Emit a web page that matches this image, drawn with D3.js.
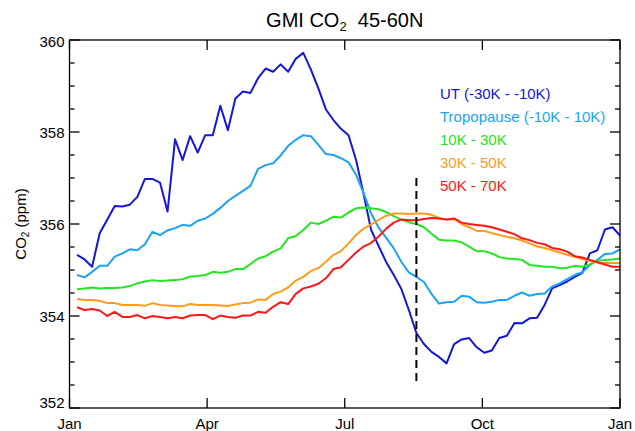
<!DOCTYPE html>
<html>
<head>
<meta charset="utf-8">
<script src="https://cdn.jsdelivr.net/npm/d3@7"></script>
<style>
  html, body { margin: 0; padding: 0; background: #fff; }
  svg { display: block; font-family: "Liberation Sans", Arial, Helvetica, sans-serif; }
</style>
</head>
<body>
<svg id="chart" width="635" height="431"></svg>
<script>
// ---- data (5-day means, day of year at end of each pentad) ----
const days = d3.range(73).map(i => 5 * (i + 1));

const seriesNames = ["UT (-30K - -10K)", "Tropopause (-10K - 10K)", "10K - 30K", "30K - 50K", "50K - 70K"];
const seriesColors = ["#1515e0", "#1aa3f5", "#22e622", "#ff9c1a", "#ff1616"];

const utValues = [
  355.33, 355.23, 355.07, 355.80, 356.09, 356.39, 356.38, 356.42, 356.59, 356.98,
  356.98, 356.90, 356.27, 357.84, 357.39, 357.91, 357.55, 357.93, 357.93, 358.57,
  358.04, 358.73, 358.88, 358.85, 359.17, 359.38, 359.31, 359.47, 359.31, 359.59,
  359.72, 359.36, 358.95, 358.49, 358.26, 358.07, 357.93, 357.39, 356.65, 355.87,
  355.52, 355.17, 354.89, 354.59, 354.13, 353.63, 353.39, 353.22, 353.11, 352.97,
  353.39, 353.49, 353.52, 353.32, 353.20, 353.25, 353.52, 353.57, 353.85, 353.84,
  353.95, 353.96, 354.24, 354.60, 354.67, 354.75, 354.85, 354.94, 355.36, 355.43,
  355.88, 355.93, 355.75
];
const tropopauseValues = [
  354.89, 354.84, 354.96, 355.09, 355.09, 355.29, 355.36, 355.45, 355.43, 355.56,
  355.83, 355.76, 355.86, 355.91, 355.98, 355.96, 356.07, 356.12, 356.22, 356.35,
  356.50, 356.61, 356.72, 356.83, 357.20, 357.28, 357.32, 357.49, 357.70, 357.83,
  357.93, 357.91, 357.72, 357.52, 357.50, 357.43, 357.34, 357.07, 356.67, 356.23,
  355.92, 355.70, 355.47, 355.18, 354.95, 354.85, 354.74, 354.48, 354.27, 354.30,
  354.31, 354.44, 354.42, 354.30, 354.29, 354.31, 354.35, 354.35, 354.44, 354.51,
  354.44, 354.48, 354.49, 354.64, 354.71, 354.80, 354.89, 354.95, 355.11, 355.22,
  355.35, 355.36, 355.45
];
const k10to30Values = [
  354.58, 354.60, 354.62, 354.60, 354.61, 354.61, 354.62, 354.65, 354.71, 354.75,
  354.78, 354.76, 354.77, 354.78, 354.80, 354.86, 354.87, 354.89, 354.96, 354.94,
  354.96, 355.02, 355.02, 355.13, 355.25, 355.30, 355.40, 355.47, 355.69, 355.74,
  355.87, 356.03, 356.00, 356.07, 356.16, 356.14, 356.25, 356.34, 356.36, 356.34,
  356.32, 356.26, 356.17, 356.09, 356.04, 356.00, 355.93, 355.79, 355.66, 355.64,
  355.64, 355.60, 355.51, 355.41, 355.41, 355.36, 355.28, 355.25, 355.24, 355.22,
  355.11, 355.09, 355.07, 355.07, 355.04, 355.05, 355.09, 355.07, 355.12, 355.20,
  355.22, 355.23, 355.25
];
const k30to50Values = [
  354.37, 354.35, 354.35, 354.33, 354.28, 354.28, 354.24, 354.24, 354.24, 354.22,
  354.28, 354.24, 354.23, 354.22, 354.21, 354.26, 354.24, 354.24, 354.24, 354.23,
  354.22, 354.25, 354.28, 354.29, 354.36, 354.35, 354.48, 354.53, 354.62, 354.77,
  354.85, 354.98, 355.04, 355.18, 355.33, 355.41, 355.58, 355.76, 355.90, 355.99,
  356.09, 356.18, 356.23, 356.23, 356.22, 356.23, 356.23, 356.20, 356.13, 356.09,
  356.11, 356.00, 355.93, 355.85, 355.85, 355.80, 355.76, 355.72, 355.69, 355.64,
  355.58, 355.51, 355.48, 355.43, 355.38, 355.33, 355.29, 355.24, 355.20, 355.17,
  355.15, 355.15, 355.15
];
const k50to70Values = [
  354.19, 354.13, 354.15, 354.12, 354.00, 354.09, 353.98, 353.98, 354.02, 353.95,
  354.00, 353.98, 353.95, 353.98, 353.95, 354.01, 354.02, 354.02, 353.93, 354.01,
  353.98, 353.96, 354.01, 354.01, 354.09, 354.07, 354.20, 354.30, 354.26, 354.48,
  354.60, 354.64, 354.70, 354.82, 355.02, 355.06, 355.22, 355.38, 355.51, 355.59,
  355.73, 355.90, 356.03, 356.10, 356.08, 356.08, 356.11, 356.13, 356.12, 356.10,
  356.12, 356.03, 356.00, 355.98, 355.96, 355.93, 355.88, 355.83, 355.78, 355.69,
  355.65, 355.59, 355.56, 355.48, 355.45, 355.40, 355.30, 355.27, 355.22, 355.17,
  355.12, 355.07, 355.07
];
const allSeries = [utValues, tropopauseValues, k10to30Values, k30to50Values, k50to70Values];

const xTickDays = [0, 91.25, 182.5, 273.75, 365];
const xTickLabels = ["Jan", "Apr", "Jul", "Oct", "Jan"];
const yTicks = [352, 354, 356, 358, 360];
const yMinorTicks = d3.range(352, 360.01, 0.5);
const markerDay = 230;
const markerRange = [352.5, 357.0];

// ---- layout ----
const svg = d3.select("#chart");
const W = 635, H = 431;
const margin = { left: 69.5, right: 15, top: 40, bottom: 23 };
const x = d3.scaleLinear().domain([0, 365]).range([margin.left, W - margin.right]);
const y = d3.scaleLinear().domain([352, 360]).range([H - margin.bottom, margin.top]);
const x0 = x.range()[0], x1 = x.range()[1], y0 = y.range()[0], y1 = y.range()[1];

// lines
const line = d3.line().x((d, i) => x(days[i])).y(d => y(d));
allSeries.forEach((vals, k) => {
  svg.append("path")
    .datum(vals)
    .attr("fill", "none")
    .attr("stroke", seriesColors[k])
    .attr("stroke-width", 2)
    .attr("stroke-linejoin", "round")
    .attr("d", line);
});

// dashed marker
svg.append("line")
  .attr("x1", x(markerDay)).attr("x2", x(markerDay))
  .attr("y1", y(markerRange[1])).attr("y2", y(markerRange[0]))
  .attr("stroke", "#000").attr("stroke-width", 2)
  .attr("stroke-dasharray", "8,5");

// axes
const axisG = svg.append("g").attr("stroke", "#000").attr("stroke-width", 1.3);
axisG.append("rect")
  .attr("x", x0).attr("y", y1).attr("width", x1 - x0).attr("height", y0 - y1)
  .attr("fill", "none");

// y ticks (left and right), major and minor
yMinorTicks.forEach(v => {
  const major = yTicks.some(t => Math.abs(t - v) < 1e-6);
  const len = major ? 10 : 5;
  axisG.append("line").attr("x1", x0).attr("x2", x0 + len).attr("y1", y(v)).attr("y2", y(v));
  axisG.append("line").attr("x1", x1).attr("x2", x1 - len).attr("y1", y(v)).attr("y2", y(v));
});
// x ticks (top and bottom)
xTickDays.forEach(d => {
  axisG.append("line").attr("x1", x(d)).attr("x2", x(d)).attr("y1", y0).attr("y2", y0 - 10);
  axisG.append("line").attr("x1", x(d)).attr("x2", x(d)).attr("y1", y1).attr("y2", y1 + 10);
});

// y tick labels
yTicks.forEach(v => {
  let yy = y(v) + 5.5;
  if (v === 352) yy = y(v) - 0.5;
  if (v === 360) yy = y(v) + 7;
  svg.append("text")
    .attr("x", x0 - 5).attr("y", yy)
    .attr("text-anchor", "end")
    .attr("font-size", 15)
    .attr("fill", "#000")
    .text(v);
});
// x tick labels
xTickDays.forEach((d, i) => {
  svg.append("text")
    .attr("x", x(d)).attr("y", y0 + 21)
    .attr("text-anchor", "middle")
    .attr("font-size", 15)
    .attr("fill", "#000")
    .text(xTickLabels[i]);
});

// title
const title = svg.append("text")
  .attr("x", (x0 + x1) / 2).attr("y", 27)
  .attr("text-anchor", "middle")
  .attr("font-size", 20)
  .attr("fill", "#000");
title.append("tspan").text("GMI CO");
title.append("tspan").attr("font-size", 13).attr("dy", 4).text("2");
title.append("tspan").attr("dy", -4).text("\u00a0\u00a045-60N");

// y label
const yl = svg.append("text")
  .attr("transform", `translate(26,${(y0 + y1) / 2}) rotate(-90)`)
  .attr("text-anchor", "middle")
  .attr("font-size", 15)
  .attr("fill", "#000");
yl.append("tspan").text("CO");
yl.append("tspan").attr("font-size", 10).attr("dy", 3).text("2");
yl.append("tspan").attr("dy", -3).text(" (ppm)");

// legend
seriesNames.forEach((name, k) => {
  svg.append("text")
    .attr("x", 440).attr("y", 98.5 + k * 23)
    .attr("font-size", 15)
    .attr("fill", seriesColors[k])
    .text(name);
});
</script>
</body>
</html>
